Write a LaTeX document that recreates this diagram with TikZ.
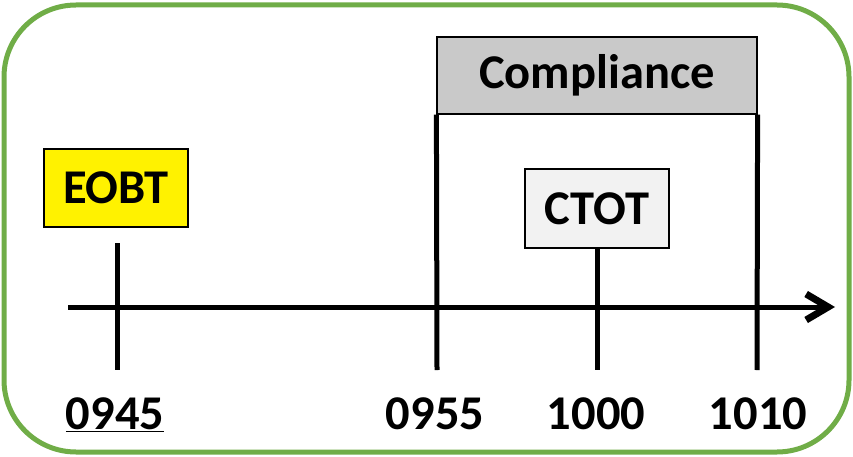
\documentclass[tikz,border=0pt]{standalone}
\usepackage{fontspec}
\setmainfont{Carlito}
\usetikzlibrary{arrows.meta}

\definecolor{framegreen}{RGB}{112,173,71}
\definecolor{compgray}{RGB}{201,201,201}
\definecolor{ctotgray}{RGB}{242,242,242}

\tikzset{
  lbl/.style={font=\fontsize{48.5}{48.5}\selectfont\bfseries},
  tag/.style={draw=black,line width=1.2pt,inner sep=0pt,lbl},
  tick/.style={line width=5pt},
}

\begin{document}
\begin{tikzpicture}[x=1pt,y=-1pt]

  \useasboundingbox (0,0) rectangle (853,457);
  \draw[framegreen,line width=5pt,rounded corners=72pt] (4,5) rectangle (849,452);

  % boxes
  \node[tag,fill=yellow,minimum width=144pt,minimum height=78pt] (eobt) at (116,188) {EOBT};
  \node[tag,fill=compgray,minimum width=320pt,minimum height=77pt] (comp) at (597,75.5) {Compliance};
  \node[tag,fill=ctotgray,minimum width=144pt,minimum height=79pt] (ctot) at (597,208.5) {CTOT};

  % tick ends
  \coordinate (t0945) at (117,243);
  \coordinate (b0945) at (117,370);
  \coordinate (b0955) at (437,370);
  \coordinate (b1000) at (597,370);
  \coordinate (b1010) at (757,370);
  \coordinate (ax0) at (68,307);
  \coordinate (ax1) at (835,307);

  \draw[tick] (t0945) -- (b0945);
  \draw[tick] (comp.south west) -- (b0955);
  \draw[tick] (ctot.south) -- (b1000);
  \draw[tick] (comp.south east) -- (b1010);
  \draw[tick,-{Straight Barb[length=22pt,width=26pt,line width=7pt]}] (ax0) -- (ax1);

  % times
  \node[lbl,anchor=base] (l0945) at (115,429) {\underline{0945}};
  \node[lbl,anchor=base] (l0955) at (435,429) {0955};
  \node[lbl,anchor=base] (l1000) at (596,429) {1000};
  \node[lbl,anchor=base] (l1010) at (758,429) {1010};

\end{tikzpicture}
\end{document}
